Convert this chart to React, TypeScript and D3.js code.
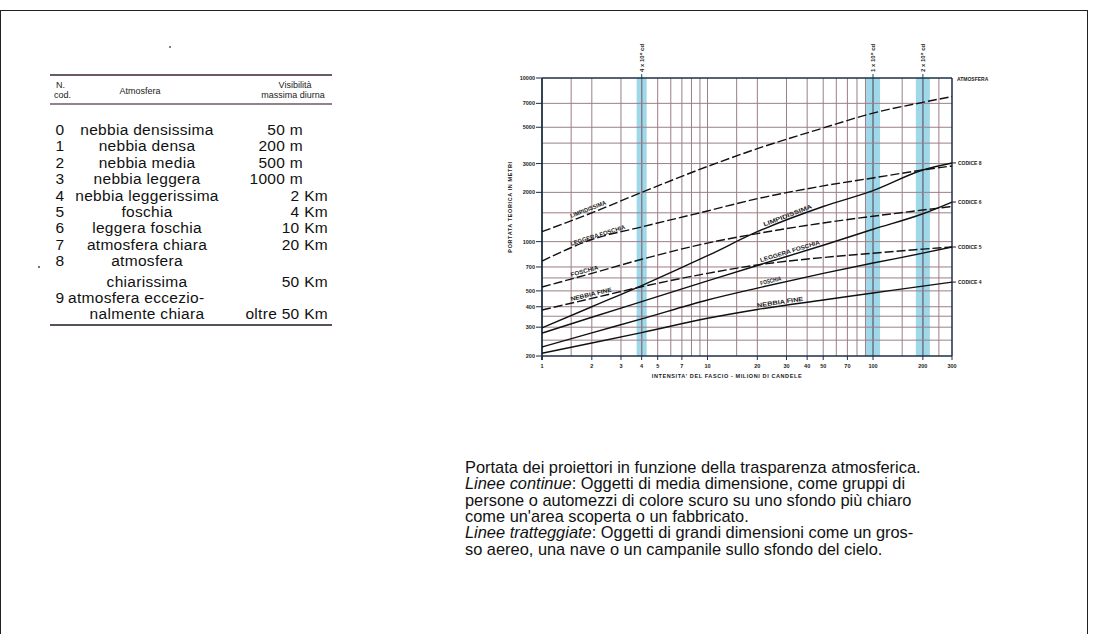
import React from "react";
import * as d3 from "d3";

// ---------- table data ----------
const tableCodes = ["0", "1", "2", "3", "4", "5", "6", "7", "8", "", "9", ""];
const tableAtmos = [
  "nebbia densissima",
  "nebbia densa",
  "nebbia media",
  "nebbia leggera",
  "nebbia leggerissima",
  "foschia",
  "leggera foschia",
  "atmosfera chiara",
  "atmosfera",
  "chiarissima",
  "atmosfera eccezio-",
  "nalmente chiara",
];
const tableVis = ["50 m", "200 m", "500 m", "1000 m", "2 Km", "4 Km", "10 Km", "20 Km", "", "50 Km", "", "oltre 50 Km"];

// ---------- chart data ----------
const intensities = [1, 2, 4, 10, 20, 50, 100, 200, 300]; // milioni di candele
const dashedLimpidissima = [1150, 1500, 2000, 2880, 3700, 4950, 6100, 7100, 7700];
const dashedLeggeraFoschia = [760, 1030, 1230, 1540, 1830, 2190, 2450, 2740, 2900];
const dashedFoschia = [528, 640, 780, 980, 1120, 1300, 1430, 1560, 1640];
const dashedNebbiaFine = [382, 450, 530, 640, 720, 800, 850, 900, 927];
const contLimpidissima = [297, 400, 539, 820, 1150, 1640, 2050, 2740, 3026];
const contLeggeraFoschia = [276, 345, 430, 575, 715, 950, 1190, 1480, 1746];
const contFoschia = [227, 277, 337, 440, 520, 640, 740, 850, 927];
const contNebbiaFine = [208, 240, 278, 340, 385, 440, 485, 535, 566];

const lineLabels = ["LIMPIDISSIMA", "LEGGERA FOSCHIA", "FOSCHIA", "NEBBIA FINE"];
const rightLabels = ["CODICE 8", "CODICE 6", "CODICE 5", "CODICE 4"];

const xTickValues = [1, 2, 3, 4, 5, 7, 10, 20, 30, 40, 50, 70, 100, 200, 300];
const xGridValues = [1.5, 2, 3, 4, 5, 6, 7, 8, 9, 10, 15, 20, 30, 40, 50, 60, 70, 80, 90, 100, 150, 200, 250];
const yTickValues = [200, 300, 400, 500, 700, 1000, 2000, 3000, 5000, 7000, 10000];
const yGridValues = [250, 300, 350, 400, 500, 600, 700, 1000, 1500, 2000, 3000, 4000, 5000, 7000];
const bandIntensities = [4, 100, 200];
const bandLabels = ["4 x 10⁶ cd", "1 x 10⁸ cd", "2 x 10⁸ cd"];

const captionLines: { italic?: string; rest: string }[] = [
  { rest: "Portata dei proiettori in funzione della trasparenza atmosferica." },
  { italic: "Linee continue", rest: ": Oggetti di media dimensione, come gruppi di" },
  { rest: "persone o automezzi di colore scuro su uno sfondo più chiaro" },
  { rest: "come un'area scoperta o un fabbricato." },
  { italic: "Linee tratteggiate", rest: ": Oggetti di grandi dimensioni come un gros-" },
  { rest: "so aereo, una nave o un campanile sullo sfondo del cielo." },
];

export default function App() {
  const W = 1096;
  const H = 634;
  const x = d3.scaleLog().domain([1, 300]).range([542, 952]);
  const y = d3.scaleLog().domain([200, 10000]).range([356, 78]);

  const line = d3
    .line<number>()
    .x((_, i) => x(intensities[i]))
    .y((d) => y(d))
    .curve(d3.curveMonotoneX);

  const dashed = [dashedLimpidissima, dashedLeggeraFoschia, dashedFoschia, dashedNebbiaFine];
  const cont = [contLimpidissima, contLeggeraFoschia, contFoschia, contNebbiaFine];

  const valueAt = (vals: number[], xv: number) =>
    d3.scaleLog().domain(intensities).range(vals)(xv);

  const labelOn = (vals: number[], x0: number, x1: number, text: string, key: string) => {
    const px0 = x(x0);
    const py0 = y(valueAt(vals, x0));
    const px1 = x(x1);
    const py1 = y(valueAt(vals, x1));
    const ang = (Math.atan2(py1 - py0, px1 - px0) * 180) / Math.PI;
    return (
      <text
        key={key}
        transform={`translate(${px0},${py0 - 2}) rotate(${ang})`}
        fontSize={6}
        fontWeight="bold"
        fill="#222"
        textLength={Math.hypot(px1 - px0, py1 - py0)}
        lengthAdjust="spacingAndGlyphs"
      >
        {text}
      </text>
    );
  };

  const leftLabelRanges: [number, number][] = [
    [1.5, 2.45],
    [1.5, 3.2],
    [1.5, 2.2],
    [1.5, 2.65],
  ];
  const midLabelRanges: [number, number][] = [
    [22, 43],
    [21, 48],
    [21, 28],
    [20, 38],
  ];

  const gridColor = "#9c7e86";
  const axisColor = "#1c2f46";
  const rowY0 = 130;
  const rowStep = 16.4;
  const rowYs = tableAtmos.map((_, i) => rowY0 + i * rowStep + (i >= 9 ? 4 : 0));

  return (
    <svg
      width={W}
      height={H}
      style={{ position: "absolute", left: 0, top: 0, background: "#fff" }}
      fontFamily="Liberation Sans, Arial, sans-serif"
    >
      <rect x={0.5} y={10.5} width={1087} height={630} fill="none" stroke="#222" strokeWidth={1} />

      {/* ---------- table ---------- */}
      <line x1={50} x2={332} y1={75} y2={75} stroke="#6a5a68" strokeWidth={2} />
      <line x1={50} x2={332} y1={104} y2={104} stroke="#6a5a68" strokeWidth={1.5} />
      <line x1={50} x2={332} y1={325} y2={325} stroke="#5a4f5e" strokeWidth={2} />
      <g fontSize={9} fill="#222">
        <text x={56} y={88}>N.</text>
        <text x={54} y={98}>cod.</text>
        <text x={140} y={94} textAnchor="middle">Atmosfera</text>
        <text x={295} y={88} textAnchor="middle">Visibilità</text>
        <text x={293} y={98} textAnchor="middle">massima diurna</text>
      </g>
      <g fontSize={15.5} fill="#111" letterSpacing={0.3}>
        {tableAtmos.map((t, i) => (
          <g key={i}>
            {tableCodes[i] && (
              <text x={60} y={rowYs[i] + 5} textAnchor="middle">
                {tableCodes[i]}
              </text>
            )}
            <text
              x={i === 10 ? 68 : 147}
              y={rowYs[i] + 5}
              textAnchor={i === 10 ? "start" : "middle"}
            >
              {t}
            </text>
            {tableVis[i] && (
              <text x={tableVis[i].endsWith("Km") ? 328 : 303} y={rowYs[i] + 5} textAnchor="end">
                {tableVis[i]}
              </text>
            )}
          </g>
        ))}
      </g>
      <circle cx={170} cy={47} r={0.9} fill="#444" />
      <circle cx={39} cy={267} r={1} fill="#444" />

      {/* ---------- chart ---------- */}
      {bandIntensities.map((b, i) => (
        <g key={"band" + i}>
          <rect
            x={x(b) - (i === 0 ? 5 : 7)}
            width={i === 0 ? 10 : 14}
            y={78}
            height={278}
            fill="#7fcbe2"
            opacity={0.75}
          />
          <line x1={x(b)} x2={x(b)} y1={74} y2={356} stroke="#1f6f92" strokeWidth={1.2} />
          <text
            transform={`translate(${x(b) + 2},${72}) rotate(-90)`}
            fontSize={6}
            fontWeight="bold"
            fill="#222"
          >
            {bandLabels[i]}
          </text>
        </g>
      ))}
      {xGridValues.map((v) => (
        <line key={"xg" + v} x1={x(v)} x2={x(v)} y1={78} y2={356} stroke={gridColor} strokeWidth={1} />
      ))}
      {yGridValues.map((v) => (
        <line key={"yg" + v} x1={542} x2={952} y1={y(v)} y2={y(v)} stroke={gridColor} strokeWidth={1} />
      ))}
      {/* frame */}
      <line x1={542} x2={952} y1={78} y2={78} stroke={axisColor} strokeWidth={1.5} />
      <line x1={542} x2={952} y1={356} y2={356} stroke={axisColor} strokeWidth={1.5} />
      <line x1={542} x2={542} y1={78} y2={360} stroke={axisColor} strokeWidth={1.8} />
      <line x1={952} x2={952} y1={78} y2={356} stroke={axisColor} strokeWidth={1.5} />

      {/* y ticks */}
      {yTickValues.map((v) => (
        <g key={"yt" + v}>
          <line x1={536} x2={542} y1={y(v)} y2={y(v)} stroke={axisColor} />
          <text x={535} y={y(v) + 2} fontSize={5.5} fontWeight="bold" textAnchor="end" fill="#222">
            {v}
          </text>
        </g>
      ))}
      {/* x ticks */}
      {xTickValues.map((v) => (
        <g key={"xt" + v}>
          <line x1={x(v)} x2={x(v)} y1={356} y2={360} stroke={axisColor} />
          <text x={x(v)} y={368} fontSize={5.5} fontWeight="bold" textAnchor="middle" fill="#222">
            {v}
          </text>
        </g>
      ))}
      <text x={727} y={378} fontSize={5.5} fontWeight="bold" textAnchor="middle" fill="#222" letterSpacing={0.6}>
        INTENSITA' DEL FASCIO - MILIONI DI CANDELE
      </text>
      <text
        transform={`translate(512,207) rotate(-90)`}
        fontSize={5.5}
        fontWeight="bold"
        textAnchor="middle"
        fill="#222"
        letterSpacing={0.6}
      >
        PORTATA TEORICA IN METRI
      </text>

      {/* right labels */}
      <text x={957} y={81} fontSize={5} fontWeight="bold" fill="#222">ATMOSFERA</text>
      {cont.map((vals, i) => (
        <g key={"rl" + i}>
          <line x1={952} x2={956} y1={y(vals[vals.length - 1])} y2={y(vals[vals.length - 1])} stroke="#222" />
          <text x={958} y={y(vals[vals.length - 1]) + 2} fontSize={5} fontWeight="bold" fill="#222">
            {rightLabels[i]}
          </text>
        </g>
      ))}

      {/* curves */}
      {dashed.map((vals, i) => (
        <path
          key={"d" + i}
          d={line(vals) || ""}
          fill="none"
          stroke="#111"
          strokeWidth={1.4}
          strokeDasharray="9,3"
        />
      ))}
      {cont.map((vals, i) => (
        <path key={"c" + i} d={line(vals) || ""} fill="none" stroke="#111" strokeWidth={1.4} />
      ))}
      {dashed.map((vals, i) => labelOn(vals, leftLabelRanges[i][0], leftLabelRanges[i][1], lineLabels[i], "ld" + i))}
      {cont.map((vals, i) => labelOn(vals, midLabelRanges[i][0], midLabelRanges[i][1], lineLabels[i], "lc" + i))}

      {/* caption */}
      <g fontSize={16.4} fill="#111">
        {captionLines.map((c, i) => (
          <text key={"cap" + i} x={465} y={473 + i * 16.3}>
            {c.italic && <tspan fontStyle="italic">{c.italic}</tspan>}
            <tspan>{c.rest}</tspan>
          </text>
        ))}
      </g>
    </svg>
  );
}
